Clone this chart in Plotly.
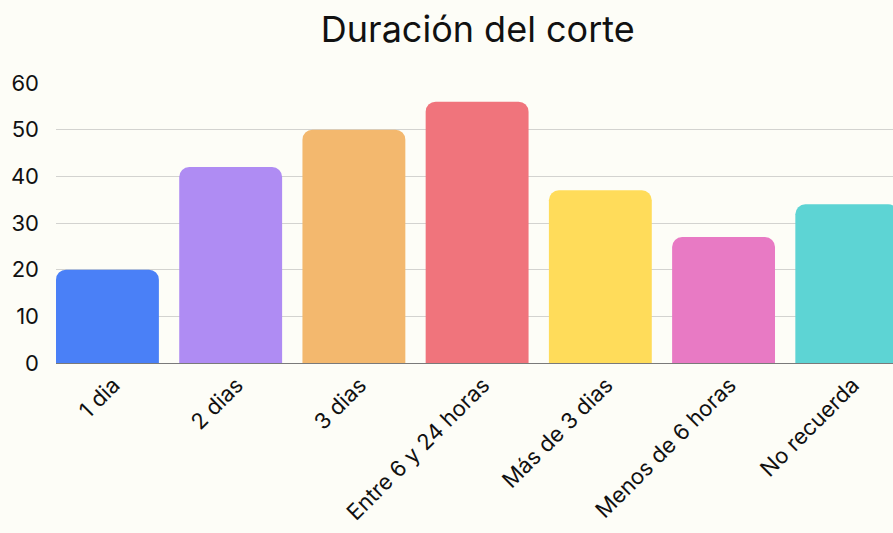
import plotly.graph_objects as go

categories = ["1 dia", "2 dias", "3 dias", "Entre 6 y 24 horas", "Más de 3 dias", "Menos de 6 horas", "No recuerda"]
values = [20, 42, 50, 56, 37, 27, 34]
colors = ["#4A80F7", "#AF8CF3", "#F3B86E", "#F0747C", "#FFDC5A", "#E87AC4", "#5DD4D4"]
y_ticks = [0, 10, 20, 30, 40, 50, 60]

FONT = "Inter, Lato, sans-serif"
BG = "#FDFDF7"

fig = go.Figure(go.Bar(
    x=categories, y=values, marker=dict(color=colors, line=dict(width=0)),
    hoverinfo="x+y",
))

fig.update_layout(
    width=893, height=533,
    paper_bgcolor=BG, plot_bgcolor=BG,
    margin=dict(l=56, r=0, t=83, b=170),
    bargap=0.165,
    barcornerradius=10,
    showlegend=False,
    title=dict(text="Duración del corte", x=0.535, xanchor="center", y=0.945, yanchor="middle",
               font=dict(family=FONT, size=36, color="#111111")),
    font=dict(family=FONT, size=22, color="#111111"),
)
fig.update_xaxes(
    type="category", range=[-0.4175, 6.375], tickangle=-45,
    showgrid=False, ticks="", showline=False, ticklabelshift=6, ticklabelstandoff=4,
    tickfont=dict(family=FONT, size=22, color="#111111"),
)
fig.update_yaxes(
    range=[0, 60], tickvals=y_ticks, showgrid=True, gridcolor="#D3D3D0", gridwidth=1,
    zeroline=True, zerolinecolor="#7A7A7A", zerolinewidth=1, ticks="", ticklabelstandoff=16,
    tickfont=dict(family=FONT, size=22, color="#111111"),
)

fig.write_html("out.html", config={"displayModeBar": False},
               post_script="document.body.style.margin='0';document.body.style.background='%s';" % BG)
